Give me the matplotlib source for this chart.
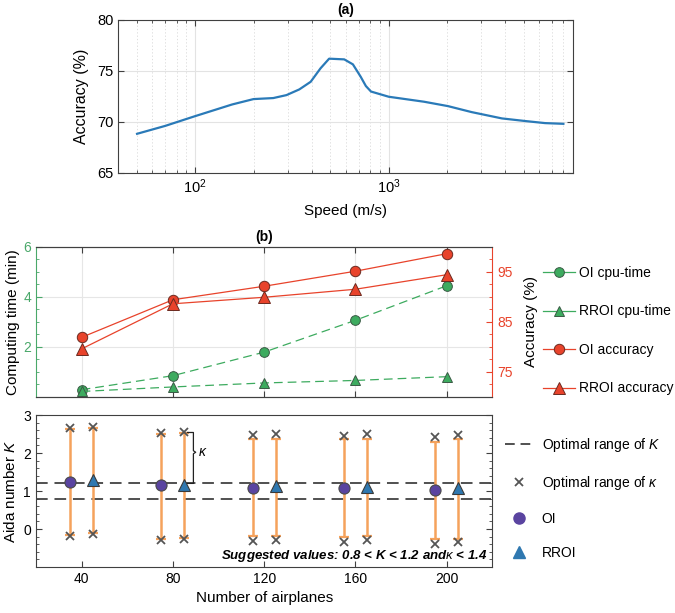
import matplotlib
matplotlib.use("Agg")
import matplotlib.pyplot as plt
from matplotlib.lines import Line2D
from matplotlib.ticker import MultipleLocator, LogLocator, NullFormatter

plt.rcParams['font.family'] = ['Liberation Sans', 'DejaVu Sans']
plt.rcParams['mathtext.fontset'] = 'custom'
plt.rcParams['mathtext.rm'] = 'Liberation Sans'
plt.rcParams['mathtext.it'] = 'Liberation Sans:italic'
plt.rcParams['mathtext.bf'] = 'Liberation Sans:bold'

# ---------------- data ----------------
speed = [50, 70, 100, 155, 200, 253, 296, 345, 395, 444, 492, 589, 653, 716,
         762, 810, 1000, 1523, 2024, 2685, 3850, 5100, 6430, 8000]
speed_acc = [68.82, 69.6, 70.56, 71.7, 72.23, 72.33, 72.62, 73.18, 73.93, 75.25,
             76.2, 76.13, 75.64, 74.43, 73.51, 72.97, 72.46, 71.97, 71.54, 70.95,
             70.33, 70.07, 69.87, 69.8]

airplanes = [40, 80, 120, 160, 200]
oi_cpu = [0.29, 0.85, 1.79, 3.06, 4.44]
rroi_cpu = [0.22, 0.40, 0.56, 0.66, 0.81]
oi_acc = [81.9, 89.4, 92.1, 95.1, 98.6]
rroi_acc = [79.6, 88.6, 89.9, 91.5, 94.4]

oi_K = [1.24, 1.15, 1.09, 1.07, 1.03]
rroi_K = [1.30, 1.15, 1.13, 1.11, 1.07]
oi_kappa_top = [2.65, 2.52, 2.48, 2.46, 2.43]
oi_kappa_bot = [-0.18, -0.28, -0.32, -0.35, -0.39]
rroi_kappa_top = [2.69, 2.54, 2.50, 2.50, 2.47]
rroi_kappa_bot = [-0.13, -0.26, -0.28, -0.30, -0.34]
oi_bar_top = [2.62, 2.50, 2.36, 2.37, 2.30]
oi_bar_bot = [-0.15, -0.25, -0.19, -0.22, -0.25]
rroi_bar_top = [2.66, 2.52, 2.36, 2.36, 2.36]
rroi_bar_bot = [-0.11, -0.23, -0.19, -0.19, -0.25]
K_range = [0.8, 1.2]
offset = 5

# ---------------- style ----------------
SP = '#404040'
GREEN = '#3dab5f'
GREEN_T = '#4aa86a'
RED = '#e8432b'
ORANGE = '#f5a25c'
PURPLE = '#5a44a0'
BLUE = '#2f78b0'
XGRAY = '#555555'
TICK = 10
LEG = 10

fig = plt.figure(figsize=(6.75, 6.13), dpi=100)

def style_spines(ax, color=SP):
    for s in ax.spines.values():
        s.set_color(color)
        s.set_linewidth(0.8)

# ---------------- panel (a) ----------------
axa = fig.add_axes([0.1753, 0.7183, 0.674, 0.2491])
axa.plot(speed, speed_acc, color='#2a7ab8', lw=1.6)
axa.set_xscale('log')
axa.set_xlim(40, 9000)
axa.set_ylim(65, 80)
axa.set_yticks([65, 70, 75, 80])
axa.xaxis.set_minor_locator(LogLocator(base=10, subs=range(2, 10)))
axa.xaxis.set_minor_formatter(NullFormatter())
axa.grid(True, which='major', color='#e3e3e3', lw=0.8)
axa.grid(True, which='minor', axis='x', color='#d8d8d8', lw=0.6, ls=(0, (1.5, 2.5)))
axa.tick_params(which='both', direction='in', top=True, right=True, labelsize=10.5,
                color=SP, length=4)
axa.tick_params(which='minor', length=2.5)
axa.set_xlabel('Speed (m/s)', fontsize=11, labelpad=6)
axa.set_ylabel('Accuracy (%)', fontsize=11.5, labelpad=6)
axa.set_title('(a)', fontweight='bold', fontsize=10, pad=4)
style_spines(axa)

# ---------------- panel (b) ----------------
axb = fig.add_axes([0.0533, 0.3524, 0.676, 0.2452])
axb2 = axb.twinx()
axb.plot(airplanes, oi_cpu, color=GREEN, ls=(0, (7, 4)), lw=0.9, marker='o',
         ms=7, mfc=GREEN, mec='#3a5a45', mew=0.7)
axb.plot(airplanes, rroi_cpu, color=GREEN, ls=(0, (7, 4)), lw=0.9, marker='^',
         ms=7.5, mfc=GREEN, mec='#3a5a45', mew=0.7)
axb2.plot(airplanes, oi_acc, color=RED, lw=0.9, marker='o', ms=7.5,
          mfc=RED, mec='#6b2a20', mew=0.7)
axb2.plot(airplanes, rroi_acc, color=RED, lw=0.9, marker='^', ms=8,
          mfc=RED, mec='#6b2a20', mew=0.7)
axb.set_xlim(20, 220)
axb.set_ylim(0, 6)
axb2.set_ylim(70, 100)
axb.set_xticks(airplanes)
axb.set_xticklabels([])
axb.set_yticks([2, 4, 6])
axb.yaxis.set_minor_locator(MultipleLocator(0.5))
axb2.set_yticks([75, 85, 95])
axb2.yaxis.set_minor_locator(MultipleLocator(2.5))
axb.grid(True, color='#e6e6e6', lw=0.8)
axb.tick_params(axis='x', direction='in', top=True, length=4, color=SP)
axb.tick_params(axis='y', which='both', direction='in', colors=GREEN_T, labelsize=TICK)
axb.tick_params(axis='y', which='major', length=4)
axb.tick_params(axis='y', which='minor', length=2.5)
axb2.tick_params(axis='y', which='both', direction='in', colors=RED, labelsize=TICK)
axb2.tick_params(axis='y', which='major', length=4)
axb2.tick_params(axis='y', which='minor', length=2.5)
style_spines(axb)
style_spines(axb2)
axb.spines['left'].set_color(GREEN_T)
axb2.spines['left'].set_visible(False)
axb2.spines['right'].set_color(RED)
axb.spines['right'].set_visible(False)
axb.set_ylabel('Computing time (min)', fontsize=11, labelpad=2)
axb2.set_ylabel('Accuracy (%)', fontsize=11, labelpad=8)
axb.set_title('(b)', fontweight='bold', fontsize=10, pad=4)

hb = [Line2D([], [], color=GREEN, lw=0.9, marker='o', ms=7, mfc=GREEN, mec='#3a5a45', mew=0.7),
      Line2D([], [], color=GREEN, lw=0.9, marker='^', ms=7.5, mfc=GREEN, mec='#3a5a45', mew=0.7),
      Line2D([], [], color=RED, lw=0.9, marker='o', ms=7.5, mfc=RED, mec='#6b2a20', mew=0.7),
      Line2D([], [], color=RED, lw=0.9, marker='^', ms=8, mfc=RED, mec='#6b2a20', mew=0.7)]
fig.legend(handles=hb, labels=['OI cpu-time', 'RROI cpu-time', 'OI accuracy', 'RROI accuracy'],
           loc='upper left', bbox_to_anchor=(0.8044, 0.566), bbox_transform=fig.transFigure,
           frameon=False, fontsize=LEG, handlelength=2.3, handletextpad=0.3,
           labelspacing=1.76, borderpad=0, borderaxespad=0)

# ---------------- panel (c) ----------------
axc = fig.add_axes([0.0533, 0.075, 0.676, 0.248])
for k in K_range:
    axc.axhline(k, color='#505050', lw=1.4, ls=(0, (6, 3.5)), zorder=1)
xo = [a - offset for a in airplanes]
xr = [a + offset for a in airplanes]
for xs, top, bot in [(xo, oi_bar_top, oi_bar_bot), (xr, rroi_bar_top, rroi_bar_bot)]:
    axc.vlines(xs, bot, top, color=ORANGE, lw=1.8, zorder=2)
    axc.plot(xs, top, ls='none', marker='_', ms=7, mew=1.6, color=ORANGE, zorder=2)
    axc.plot(xs, bot, ls='none', marker='_', ms=7, mew=1.6, color=ORANGE, zorder=2)
for xs, top, bot in [(xo, oi_kappa_top, oi_kappa_bot), (xr, rroi_kappa_top, rroi_kappa_bot)]:
    axc.plot(xs, top, ls='none', marker='x', ms=5.5, mew=1.3, color=XGRAY, zorder=3)
    axc.plot(xs, bot, ls='none', marker='x', ms=5.5, mew=1.3, color=XGRAY, zorder=3)
axc.plot(xo, oi_K, ls='none', marker='o', ms=8, mfc=PURPLE, mec='#4a4a4a', mew=0.8, zorder=4)
axc.plot(xr, rroi_K, ls='none', marker='^', ms=9, mfc=BLUE, mec='#3a3a3a', mew=0.8, zorder=4)

# kappa brace near 80 airplanes (RROI)
bx = airplanes[1] + offset + 4.0
ktop = rroi_kappa_top[1]
kbot = K_range[1]
kmid = (ktop + kbot) / 2 + 0.15
axc.plot([bx - 2.6, bx, bx, bx + 1.0, bx, bx, bx - 2.6],
         [ktop, ktop, kmid + 0.04, kmid, kmid - 0.04, kbot, kbot],
         color='#222222', lw=0.9, zorder=5)
axc.text(bx + 1.8, kmid, r'$\kappa$', fontsize=10, va='center', ha='left')

axc.text(218, -0.7, r'Suggested values: 0.8 < K < 1.2 and$\kappa$ < 1.4',
         fontsize=9.5, fontweight='bold', fontstyle='italic', ha='right', va='center')

axc.set_xlim(20, 220)
axc.set_ylim(-1, 3)
axc.set_xticks(airplanes)
axc.set_yticks([0, 1, 2, 3])
axc.yaxis.set_minor_locator(MultipleLocator(0.2))
axc.tick_params(which='both', direction='in', right=True, color=SP, labelsize=TICK)
axc.tick_params(which='major', length=4)
axc.tick_params(which='minor', length=2.5)
axc.set_xlabel('Number of airplanes', fontsize=11, labelpad=4)
axc.set_ylabel(r'Aida number $K$', fontsize=11, labelpad=4)
style_spines(axc)

hc = [Line2D([], [], color='#505050', lw=1.4, ls=(0, (5, 3))),
      Line2D([], [], ls='none', marker='x', ms=5.5, mew=1.3, color=XGRAY),
      Line2D([], [], ls='none', marker='o', ms=8, mfc=PURPLE, mec=PURPLE),
      Line2D([], [], ls='none', marker='^', ms=9, mfc=BLUE, mec=BLUE)]
fig.legend(handles=hc, labels=[r'Optimal range of $K$', r'Optimal range of $\kappa$', 'OI', 'RROI'],
           loc='upper left', bbox_to_anchor=(0.748, 0.289), bbox_transform=fig.transFigure,
           frameon=False, fontsize=LEG, handlelength=2.0, handletextpad=0.65,
           labelspacing=1.45, borderpad=0, borderaxespad=0)

fig.savefig('out.png', dpi=100)
